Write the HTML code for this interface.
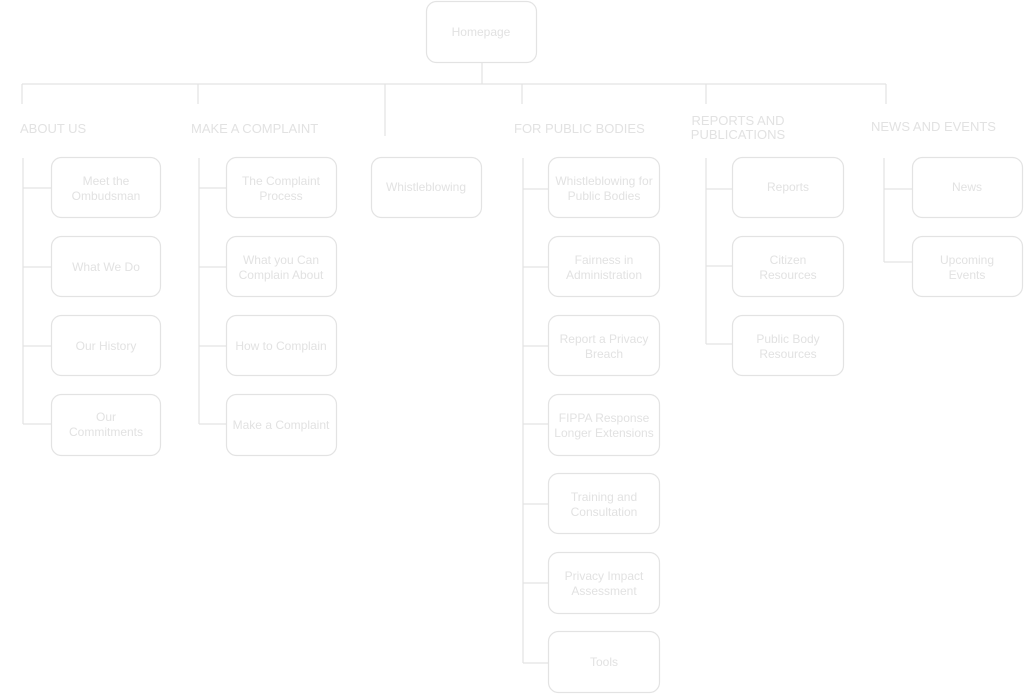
<!DOCTYPE html>
<html><head><meta charset="utf-8"><style>
html,body{margin:0;padding:0;background:#fff;}
svg{display:block;}
text{font-family:"Liberation Sans",sans-serif;fill:#e2e2e2;}
.h{font-size:13px;}
.b{font-size:12px;}
</style></head><body>
<svg width="1024" height="695" viewBox="0 0 1024 695" xmlns="http://www.w3.org/2000/svg">
<g fill="none" stroke="#e3e3e3" stroke-width="1.2">
<rect x="426.5" y="1.5" width="110" height="61" rx="10"/>
<path d="M482 63V84M22 84H886M22 84V104M198 84V104M385 84V136M522 84V104M706 84V104M886 84V104"/>
<path d="M23 158V424M23 188H51M23 267H51M23 346H51M23 424H51"/>
<rect x="51.5" y="157.5" width="109" height="60" rx="10"/>
<rect x="51.5" y="236.5" width="109" height="60" rx="10"/>
<rect x="51.5" y="315.5" width="109" height="60" rx="10"/>
<rect x="51.5" y="394.5" width="109" height="61" rx="10"/>
<path d="M199 158V424M199 188H226M199 267H226M199 346H226M199 424H226"/>
<rect x="226.5" y="157.5" width="110" height="60" rx="10"/>
<rect x="226.5" y="236.5" width="110" height="60" rx="10"/>
<rect x="226.5" y="315.5" width="110" height="60" rx="10"/>
<rect x="226.5" y="394.5" width="110" height="61" rx="10"/>
<rect x="371.5" y="157.5" width="110" height="60" rx="10"/>
<path d="M523 158V663M523 189H548M523 267H548M523 346H548M523 424H548M523 504H548M523 583H548M523 663H548"/>
<rect x="548.5" y="157.5" width="111" height="60" rx="10"/>
<rect x="548.5" y="236.5" width="111" height="60" rx="10"/>
<rect x="548.5" y="315.5" width="111" height="60" rx="10"/>
<rect x="548.5" y="394.5" width="111" height="61" rx="10"/>
<rect x="548.5" y="473.5" width="111" height="60" rx="10"/>
<rect x="548.5" y="552.5" width="111" height="61" rx="10"/>
<rect x="548.5" y="631.5" width="111" height="61" rx="10"/>
<path d="M706 158V344M706 189H732M706 266H732M706 344H732"/>
<rect x="732.5" y="157.5" width="111" height="60" rx="10"/>
<rect x="732.5" y="236.5" width="111" height="60" rx="10"/>
<rect x="732.5" y="315.5" width="111" height="60" rx="10"/>
<path d="M884 158V262M884 189H912M884 262H912"/>
<rect x="912.5" y="157.5" width="110" height="60" rx="10"/>
<rect x="912.5" y="236.5" width="110" height="60" rx="10"/>
</g>
<g text-anchor="middle">
<text class="b" x="481" y="36">Homepage</text>
</g>
<g>
<text class="h" x="20" y="133">ABOUT US</text>
<text class="h" x="191" y="133">MAKE A COMPLAINT</text>
<text class="h" x="514" y="133">FOR PUBLIC BODIES</text>
<text class="h" x="738" y="125" text-anchor="middle">REPORTS AND</text>
<text class="h" x="738" y="139" text-anchor="middle">PUBLICATIONS</text>
<text class="h" x="871" y="131">NEWS AND EVENTS</text>
</g>
<g text-anchor="middle">
<text class="b" x="106" y="185">Meet the</text>
<text class="b" x="106" y="200">Ombudsman</text>
<text class="b" x="106" y="271">What We Do</text>
<text class="b" x="106" y="350">Our History</text>
<text class="b" x="106" y="421">Our</text>
<text class="b" x="106" y="436">Commitments</text>

<text class="b" x="281" y="185">The Complaint</text>
<text class="b" x="281" y="200">Process</text>
<text class="b" x="281" y="264">What you Can</text>
<text class="b" x="281" y="279">Complain About</text>
<text class="b" x="281" y="350">How to Complain</text>
<text class="b" x="281" y="429">Make a Complaint</text>

<text class="b" x="426" y="191">Whistleblowing</text>

<text class="b" x="604" y="185">Whistleblowing for</text>
<text class="b" x="604" y="200">Public Bodies</text>
<text class="b" x="604" y="264">Fairness in</text>
<text class="b" x="604" y="279">Administration</text>
<text class="b" x="604" y="343">Report a Privacy</text>
<text class="b" x="604" y="358">Breach</text>
<text class="b" x="604" y="422">FIPPA Response</text>
<text class="b" x="604" y="437">Longer Extensions</text>
<text class="b" x="604" y="501">Training and</text>
<text class="b" x="604" y="516">Consultation</text>
<text class="b" x="604" y="580">Privacy Impact</text>
<text class="b" x="604" y="595">Assessment</text>
<text class="b" x="604" y="666">Tools</text>

<text class="b" x="788" y="191">Reports</text>
<text class="b" x="788" y="264">Citizen</text>
<text class="b" x="788" y="279">Resources</text>
<text class="b" x="788" y="343">Public Body</text>
<text class="b" x="788" y="358">Resources</text>

<text class="b" x="967" y="191">News</text>
<text class="b" x="967" y="264">Upcoming</text>
<text class="b" x="967" y="279">Events</text>
</g>
</svg>
</body></html>
